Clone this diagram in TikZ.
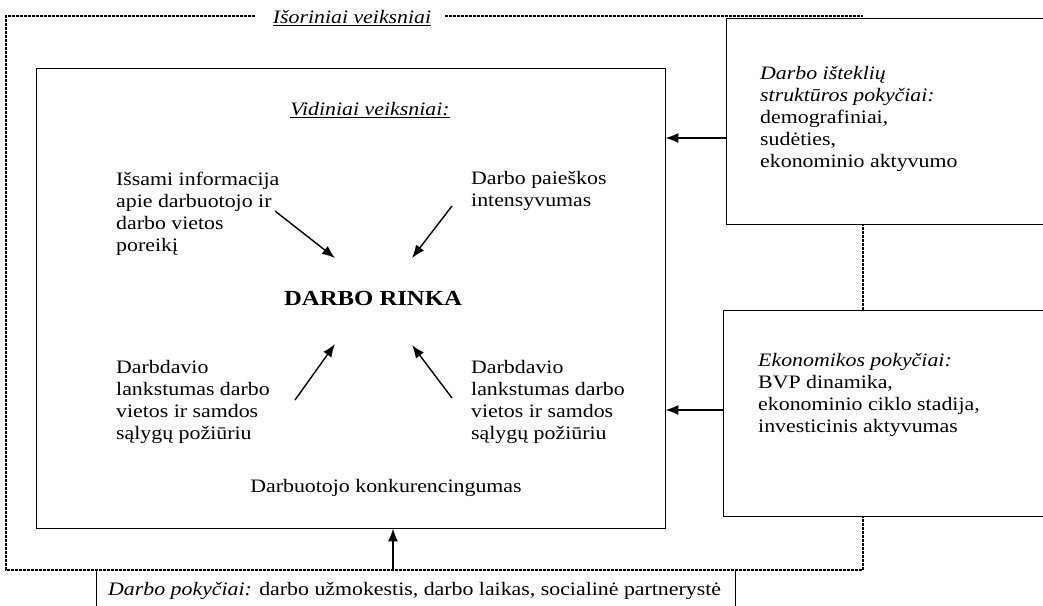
\documentclass[tikz,border=0pt]{standalone}
\usepackage{fontspec}
\setmainfont{Liberation Serif}[FakeStretch=1.15]
\usetikzlibrary{arrows.meta}
\begin{document}
\begin{tikzpicture}[x=1pt,y=-1pt,
  every node/.style={font=\fontsize{19}{22}\selectfont, inner sep=0pt},
  boxsolid/.style={draw, line width=0.9pt},
  frame/.style={line width=1.6pt, dash pattern=on 3pt off 1pt},
  arr/.style={line width=1.4pt, -{Latex[length=13pt,width=10pt]}},
  txt/.style={align=left, anchor=west}]
\useasboundingbox (0,0) rectangle (1043,605);
\clip (0,0) rectangle (1043,605);
% boxes
\node[boxsolid, minimum width=629pt, minimum height=460pt] (inner) at (350.5,298) {};
\node[boxsolid, minimum width=374pt, minimum height=206pt] (box1) at (913,121) {};
\node[boxsolid, minimum width=377pt, minimum height=206pt] (box2) at (911.5,413) {};
% outer dashed frame
\node (title) at (352,18) {\itshape\underline{Išoriniai veiksniai}};
\draw[frame] (255,16) -- (6,16) -- (6,570) -- (863,570) -- (863,516);
\draw[frame] (863,310) -- (863,224);
\draw[frame] (445,16) -- (863,16);
% bottom box
\node[anchor=west] (bot) at (108,591) {\textit{Darbo pokyčiai:} darbo užmokestis, darbo laikas, socialinė partnerystė};
\draw[line width=0.9pt] (96,570) -- (96,620) (735,570) -- (735,620);
% inner texts
\node (vid) at (370,110) {\itshape\underline{Vidiniai veiksniai:}};
\node[txt] (t1) at (116,214) {Išsami informacija\\apie darbuotojo ir\\darbo vietos\\poreikį};
\node[txt] (t2) at (471,191) {Darbo paieškos\\intensyvumas};
\node[font=\fontsize{21.5}{24}\selectfont\bfseries] (rinka) at (373,298) {DARBO RINKA};
\node[txt] (t3) at (116,402) {Darbdavio\\lankstumas darbo\\vietos ir samdos\\sąlygų požiūriu};
\node[txt] (t4) at (471,402) {Darbdavio\\lankstumas darbo\\vietos ir samdos\\sąlygų požiūriu};
\node (konk) at (386,488) {Darbuotojo konkurencingumas};
% right texts
\node[txt] (r1) at (760,119) {\textit{Darbo išteklių}\\\textit{struktūros pokyčiai:}\\demografiniai,\\sudėties,\\ekonominio aktyvumo};
\node[txt] (r2) at (758,395) {\textit{Ekonomikos pokyčiai:}\\BVP dinamika,\\ekonominio ciklo stadija,\\investicinis aktyvumas};
% inner arrows
\coordinate (p1) at (275,211);
\coordinate (q1) at (335,258);
\coordinate (p2) at (452,206);
\coordinate (q2) at (412,258);
\coordinate (p3) at (295,400);
\coordinate (q3) at (335,344);
\coordinate (p4) at (452,398);
\coordinate (q4) at (412,345);
\draw[arr] (p1) -- (q1);
\draw[arr] (p2) -- (q2);
\draw[arr] (p3) -- (q3);
\draw[arr] (p4) -- (q4);
% outer arrows
\coordinate (a1) at (700,138);
\coordinate (a2) at (700,410);
\coordinate (b) at (393,569);
\draw[arr] (box1.west |- a1) -- (inner.east |- a1);
\draw[arr] (box2.west |- a2) -- (inner.east |- a2);
\draw[arr] (b) -- (inner.south -| b);
\end{tikzpicture}
\end{document}
